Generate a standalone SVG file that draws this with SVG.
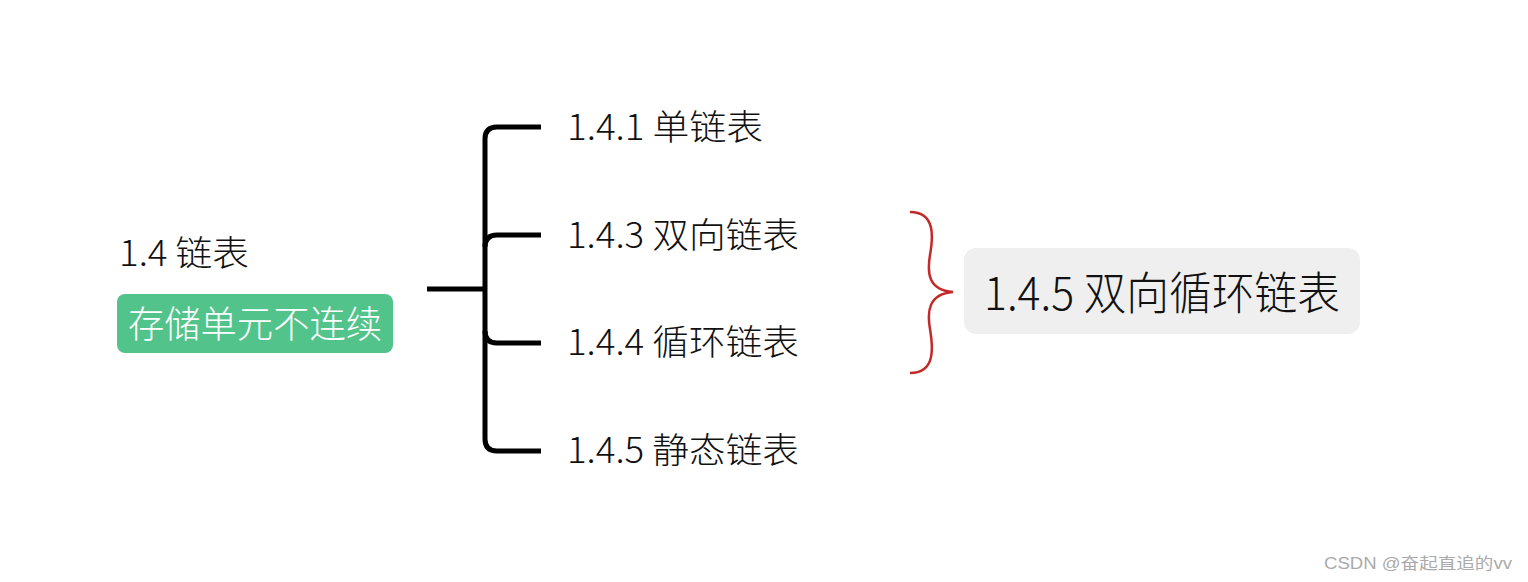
<svg xmlns="http://www.w3.org/2000/svg" width="1528" height="582" viewBox="0 0 1528 582">
<style>
.t{font-family:"Microsoft YaHei","Noto Sans CJK SC","Noto Sans",sans-serif;fill:#111;font-weight:300;}
.c{fill:none;stroke:#000;stroke-width:5;stroke-linecap:butt;stroke-linejoin:round;}
</style>
<rect width="1528" height="582" fill="#fff"/>
<g id="root">
<text class="t" x="119" y="266" font-size="35" textLength="130" lengthAdjust="spacingAndGlyphs">1.4 链表</text>
<rect x="117" y="294" width="276" height="59" rx="8" fill="#52c48b"/>
<text class="t" x="128" y="338" font-size="37" textLength="254" lengthAdjust="spacingAndGlyphs" style="fill:#fff">存储单元不连续</text>
</g>
<g id="connectors">
<path class="c" d="M427,289 H485"/>
<path class="c" d="M541,127 H497 Q485,127 485,139 V439 Q485,451 497,451 H541"/>
<path class="c" d="M541,235 H497 Q485,235 485,247"/>
<path class="c" d="M541,343 H497 Q485,343 485,331"/>
<path d="M910,212 C936,212 933,238 930,255 C927,273 928,290 953,292 C928,294 927,312 930,329 C933,347 936,373 910,373" fill="none" stroke="#c22a2a" stroke-width="2.5"/>
</g>
<g id="n141"><text class="t" x="567" y="140" font-size="35" textLength="196" lengthAdjust="spacingAndGlyphs">1.4.1 单链表</text></g>
<g id="n143"><text class="t" x="567" y="248" font-size="35" textLength="232" lengthAdjust="spacingAndGlyphs">1.4.3 双向链表</text></g>
<g id="n144"><text class="t" x="567" y="355" font-size="35" textLength="232" lengthAdjust="spacingAndGlyphs">1.4.4 循环链表</text></g>
<g id="n145"><text class="t" x="567" y="463" font-size="35" textLength="232" lengthAdjust="spacingAndGlyphs">1.4.5 静态链表</text></g>
<g id="summary">
<rect x="964" y="248" width="396" height="86" rx="12" fill="#efefef"/>
<text class="t" x="984" y="310" font-size="45" textLength="356" lengthAdjust="spacingAndGlyphs">1.4.5 双向循环链表</text>
</g>
<text x="1324" y="569" font-family="'Liberation Sans','Noto Sans CJK SC',sans-serif" font-size="16" fill="#aaa" textLength="188" lengthAdjust="spacingAndGlyphs">CSDN @奋起直追的vv</text>
</svg>
